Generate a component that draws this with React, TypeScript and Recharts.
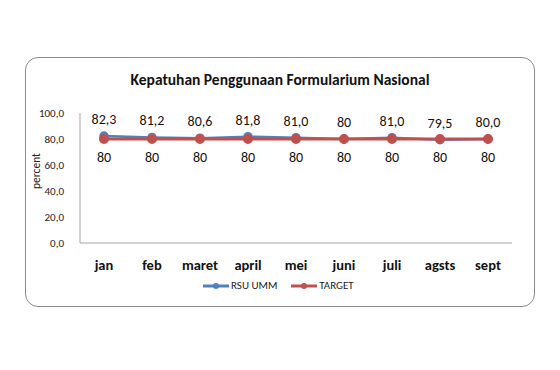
import { LabelList, Line, LineChart, XAxis, YAxis } from "recharts";

const months = ["jan", "feb", "maret", "april", "mei", "juni", "juli", "agsts", "sept"];
const rsuUmm = [82.3, 81.2, 80.6, 81.8, 81.0, 80, 81.0, 79.5, 80.0];
const rsuLabels = ["82,3", "81,2", "80,6", "81,8", "81,0", "80", "81,0", "79,5", "80,0"];
const target = [80, 80, 80, 80, 80, 80, 80, 80, 80];
const yTicks = [0, 20, 40, 60, 80, 100];

const data = months.map((m, i) => ({
  month: m,
  rsu: rsuUmm[i],
  rsuLabel: rsuLabels[i],
  target: target[i],
}));

const BLUE = "#4f81bd";
const RED = "#c0504d";
const FONT = "Carlito, Lato, 'Open Sans', sans-serif";

function LegendItem({ color, label }: { color: string; label: string }) {
  return (
    <span style={{ display: "inline-flex", alignItems: "center", marginRight: 14 }}>
      <svg width={26} height={8}>
        <line x1={0} y1={4} x2={26} y2={4} stroke={color} strokeWidth={3} />
        <circle cx={13} cy={4} r={3} fill={color} />
      </svg>
      <span style={{ marginLeft: 2 }}>{label}</span>
    </span>
  );
}

export default function App() {
  return (
    <div
      style={{
        position: "absolute",
        left: 0,
        top: 0,
        width: 560,
        height: 370,
        background: "#fff",
        fontFamily: FONT,
      }}
    >
      <div
        style={{
          position: "absolute",
          left: 25,
          top: 57,
          width: 508,
          height: 248,
          border: "1px solid #8c8c8c",
          borderRadius: 13,
        }}
      />
      <div
        style={{
          position: "absolute",
          left: 0,
          width: 560,
          top: 70,
          textAlign: "center",
          fontWeight: "bold",
          fontSize: 15.5,
          color: "#111",
        }}
      >
        Kepatuhan Penggunaan Formularium Nasional
      </div>
      <div style={{ position: "absolute", left: 0, top: 0 }}>
        <LineChart
          width={560}
          height={370}
          data={data}
          margin={{ top: 113, right: 48, bottom: 97, left: 36 }}
        >
          <XAxis
            dataKey="month"
            height={30}
            padding={{ left: 24, right: 24 }}
            axisLine={{ stroke: "#a6a6a6" }}
            tickLine={false}
            tickMargin={11}
            tick={{ fontSize: 14.5, fontWeight: "bold", fill: "#111", fontFamily: FONT }}
            interval={0}
          />
          <YAxis
            domain={[0, 100]}
            ticks={yTicks}
            width={44}
            axisLine={{ stroke: "#a6a6a6" }}
            tickLine={false}
            tickMargin={10}
            tick={{ fontSize: 11, fill: "#222", fontFamily: FONT }}
            tickFormatter={(v: number) => v.toFixed(1).replace(".", ",")}
            label={{
              value: "percent",
              angle: -90,
              position: "insideLeft",
              dx: -5,
              dy: 11,
              style: { fontSize: 11.5, fill: "#222", fontFamily: FONT },
            }}
          />
          <Line
            type="linear"
            dataKey="rsu"
            stroke={BLUE}
            strokeWidth={2.5}
            dot={{ r: 3.5, fill: BLUE, stroke: BLUE }}
            isAnimationActive={false}
          >
            <LabelList
              dataKey="rsuLabel"
              position="top"
              offset={12}
              style={{ fontSize: 14, fill: "#111", fontFamily: FONT }}
            />
          </Line>
          <Line
            type="linear"
            dataKey="target"
            stroke={RED}
            strokeWidth={3}
            dot={{ r: 3.5, fill: RED, stroke: RED }}
            isAnimationActive={false}
          >
            <LabelList
              dataKey="target"
              position="bottom"
              offset={13}
              style={{ fontSize: 14, fill: "#111", fontFamily: FONT }}
            />
          </Line>
        </LineChart>
      </div>
      <div
        style={{
          position: "absolute",
          left: 203,
          top: 279,
          fontSize: 11,
          color: "#222",
          display: "flex",
          alignItems: "center",
        }}
      >
        <LegendItem color={BLUE} label="RSU UMM" />
        <LegendItem color={RED} label="TARGET" />
      </div>
    </div>
  );
}
